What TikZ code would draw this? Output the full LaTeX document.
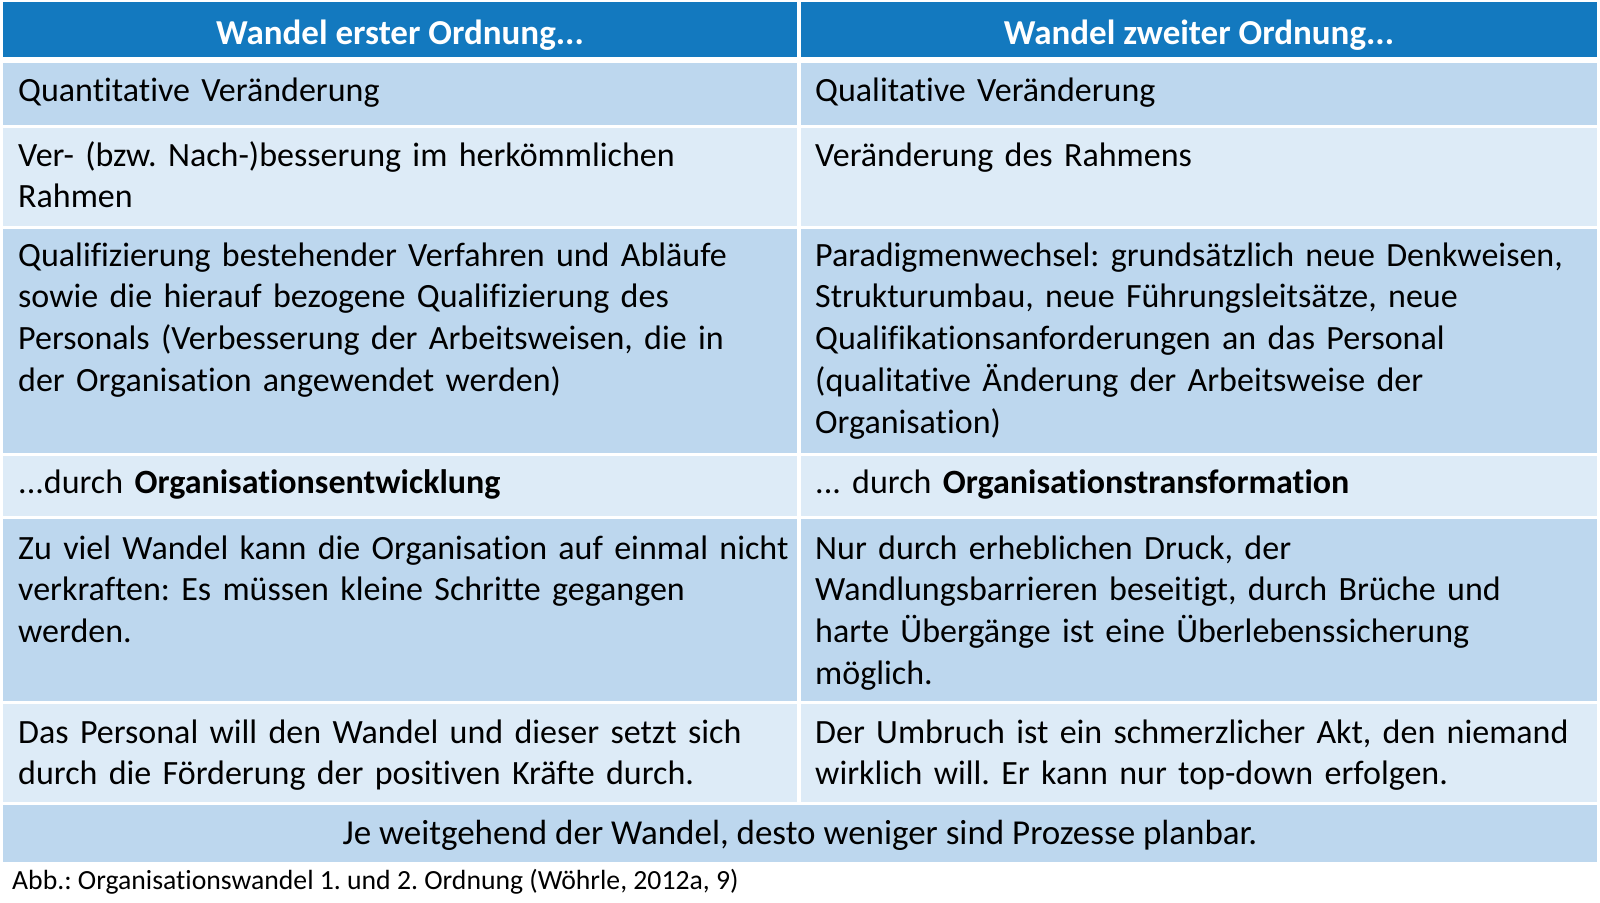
\documentclass[tikz,border=0pt]{standalone}
\usepackage{fontspec}
\setmainfont{Carlito}[Ligatures=NoCommon]
\frenchspacing
\definecolor{headblue}{RGB}{19,121,191}
\definecolor{darkrow}{RGB}{189,215,238}
\definecolor{lightrow}{RGB}{221,235,247}

\begin{document}
\begin{tikzpicture}[x=1pt, y=-1pt, inner sep=0pt,
  head/.style = {anchor=base, text=white, font=\fontsize{35}{41.8}\selectfont\bfseries},
  cell/.style = {anchor=base west, align=left, text width=780pt, font=\fontsize{34}{41.8}\selectfont},
  foot/.style = {anchor=base, font=\fontsize{35}{41.8}\selectfont}]
  \useasboundingbox (0,0) rectangle (1600,902);
  % backgrounds
  \fill[headblue] (3,2) rectangle (797,57);
  \fill[headblue] (801,2) rectangle (1597,57);
  \fill[darkrow] (3,63) rectangle (797,125);
  \fill[darkrow] (801,63) rectangle (1597,125);
  \fill[lightrow] (3,128) rectangle (797,226);
  \fill[lightrow] (801,128) rectangle (1597,226);
  \fill[darkrow] (3,229) rectangle (797,453);
  \fill[darkrow] (801,229) rectangle (1597,453);
  \fill[lightrow] (3,456) rectangle (797,516);
  \fill[lightrow] (801,456) rectangle (1597,516);
  \fill[darkrow] (3,519) rectangle (797,701);
  \fill[darkrow] (801,519) rectangle (1597,701);
  \fill[lightrow] (3,704) rectangle (797,802);
  \fill[lightrow] (801,704) rectangle (1597,802);
  \fill[darkrow] (3,805) rectangle (1597,862);

  \node[head] (h1) at (400,44) {Wandel erster Ordnung...};
  \node[head] (h2) at (1199,44) {Wandel zweiter Ordnung...};

  \node[cell] (l1) at (18,101) {Quantitative Veränderung};
  \node[cell] (r1) at (815,101) {Qualitative Veränderung};
  \node[cell] (l2) at (18,166) {Ver- (bzw. Nach-)besserung im herkömmlichen\\Rahmen};
  \node[cell] (r2) at (815,166) {Veränderung des Rahmens};
  \node[cell] (l3) at (18,266) {Qualifizierung bestehender Verfahren und Abläufe\\sowie die hierauf bezogene Qualifizierung des\\Personals (Verbesserung der Arbeitsweisen, die in\\der Organisation angewendet werden)};
  \node[cell] (r3) at (815,266) {Paradigmenwechsel: grundsätzlich neue Denkweisen,\\Strukturumbau, neue Führungsleitsätze, neue\\Qualifikationsanforderungen an das Personal\\(qualitative Änderung der Arbeitsweise der\\Organisation)};
  \node[cell] (l4) at (18,493) {...durch \textbf{Organisationsentwicklung}};
  \node[cell] (r4) at (815,493) {... durch \textbf{Organisationstransformation}};
  \node[cell] (l5) at (18,559) {Zu viel Wandel kann die Organisation auf einmal nicht\\verkraften: Es müssen kleine Schritte gegangen\\werden.};
  \node[cell] (r5) at (815,559) {Nur durch erheblichen Druck, der\\Wandlungsbarrieren beseitigt, durch Brüche und\\harte Übergänge ist eine Überlebenssicherung\\möglich.};
  \node[cell] (l6) at (18,743) {Das Personal will den Wandel und dieser setzt sich\\durch die Förderung der positiven Kräfte durch.};
  \node[cell] (r6) at (815,743) {Der Umbruch ist ein schmerzlicher Akt, den niemand\\wirklich will. Er kann nur top-down erfolgen.};

  \node[foot] (f) at (800,844) {Je weitgehend der Wandel, desto weniger sind Prozesse planbar.};
  \node[anchor=base west, font=\fontsize{27.7}{33}\selectfont] (cap) at (12,889) {Abb.: Organisationswandel 1. und 2. Ordnung (Wöhrle, 2012a, 9)};
\end{tikzpicture}
\end{document}
